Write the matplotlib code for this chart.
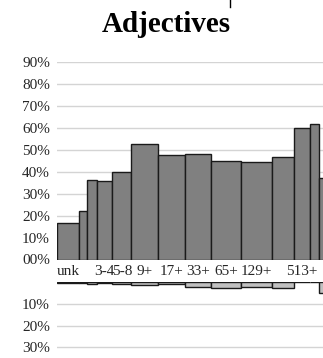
import numpy as np
import matplotlib
matplotlib.use('Agg')
import matplotlib.pyplot as plt
from matplotlib.ticker import FuncFormatter
from matplotlib.lines import Line2D

plt.rcParams['font.family'] = ['Liberation Serif', 'DejaVu Serif']
plt.rcParams['font.size'] = 11

# ---------- dados ----------
categories = ["unk", "1", "2", "3-4", "5-8", "9+", "17+", "33+", "65+",
              "129+", "257+", "513+", "1025+", "2049+"]
shown = ["unk", "3-4", "5-8", "9+", "17+", "33+", "65+", "129+", "513+"]
widths = [22.3, 7.7, 10.6, 15.0, 19.0, 27.0, 26.7, 25.7, 30.6, 30.4, 22.6, 15.4, 9.3, 14.0]
upper = [16.5, 22.3, 36.2, 35.8, 40.0, 52.6, 47.6, 48.2, 45.0, 44.4, 46.8, 60.2, 62.0, 37.4]
lower = [0.2, 0.3, 0.9, 0.3, 0.7, 1.2, 0.9, 2.0, 2.5, 2.0, 2.5, 0.0, 0.0, 5.1]

widths = np.array(widths)
lefts = np.concatenate([[0], np.cumsum(widths)[:-1]])
centers = lefts + widths / 2
upper = np.array(upper) / 100
lower = np.array(lower) / 100

W, H = 323, 358
fig = plt.figure(figsize=(W / 100, H / 100), dpi=100)

x0 = 56.7
ax = fig.add_axes([x0 / W, 1 - 259.5 / H, 1 - x0 / W, (259.5 - 62.3) / H])
axb = fig.add_axes([x0 / W, 0, 1 - x0 / W, 1 - 282.3 / H])

grid_c = '#d4d4d4'
txt_c = '#262626'

# ---------- barras de cima ----------
ax.bar(lefts, upper, width=widths, align='edge', color='#808080',
       edgecolor='#1a1a1a', linewidth=1.0, zorder=3)
ax.set_xlim(0, W - x0)
ax.set_ylim(0, 0.9)
ax.set_yticks(np.arange(0, 0.91, 0.1))
ax.yaxis.set_major_formatter(FuncFormatter(lambda v, p: f"{int(round(v * 100)):02d}%"))
ax.set_xticks([c for c, n in zip(centers, categories) if n in shown])
ax.set_xticklabels([n for n in categories if n in shown])
ax.tick_params(length=0, colors=txt_c, labelsize=11)
ax.tick_params(axis='y', pad=4.8)
ax.tick_params(axis='x', pad=4)
ax.grid(axis='y', color=grid_c, linewidth=1.0, zorder=0)
for s in ax.spines.values():
    s.set_visible(False)

# ---------- barras de baixo (invertidas) ----------
axb.bar(lefts, lower, width=widths, align='edge', color='#c0c0c0',
        edgecolor='#1a1a1a', linewidth=1.0, zorder=3)
axb.set_xlim(0, W - x0)
ylo = (H - 282.3) / 216.7
axb.set_ylim(ylo, 0)
axb.set_yticks([0.1, 0.2, 0.3])
axb.yaxis.set_major_formatter(FuncFormatter(lambda v, p: f"{int(round(v * 100))}%"))
axb.set_xticks([])
axb.tick_params(length=0, colors=txt_c, labelsize=11)
axb.tick_params(axis='y', pad=4.8)
axb.grid(axis='y', color=grid_c, linewidth=1.0, zorder=0)
for s in axb.spines.values():
    s.set_visible(False)

# ---------- título ----------
fig.text(166 / W, 1 - 31.7 / H, "Adjectives", ha='center', va='baseline',
         fontsize=21, fontweight='bold', color='black')
fig.add_artist(Line2D([230 / W, 230 / W], [1, 1 - 7 / H], color='black', linewidth=1))

fig.savefig('out.png', dpi=100)
